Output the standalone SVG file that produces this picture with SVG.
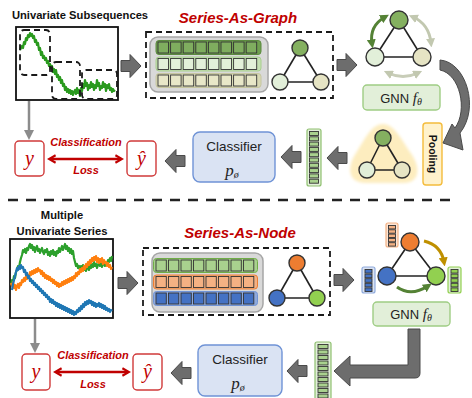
<svg xmlns="http://www.w3.org/2000/svg" width="472" height="398" viewBox="0 0 472 398">
<style>
  .title { font-family: "Liberation Sans", Arial, sans-serif; font-weight: bold; fill: #111; }
  .red-title { font-family: "Liberation Sans", Arial, sans-serif; font-weight: bold; font-style: italic; fill: #c00000; }
  .lbl { font-family: "Liberation Sans", Arial, sans-serif; fill: #222; }
  .math { font-family: "Liberation Serif", "Times New Roman", serif; font-style: italic; }
  .dash { fill: none; stroke: #1a1a1a; stroke-width: 1.8; stroke-dasharray: 6 4; }
  .blk { fill: #6d6d6d; stroke: #4a4a4a; stroke-width: 1; }
  .edge { stroke: #222; stroke-width: 1.6; }
  .node { stroke: #333; stroke-width: 1.4; }
  .holder { fill: #d9d9d9; stroke: #a6a6a6; stroke-width: 1.5; }
  .cell { stroke: #333; stroke-width: 0.9; }
  .ybox { fill: #fff; stroke: #d03a3a; stroke-width: 1.4; }
  .clf { fill: #dae3f3; stroke: #6f93d6; stroke-width: 1.4; }
  .gnn { fill: #e2efd9; stroke: #9fcd84; stroke-width: 1.4; }
  .series { fill: none; stroke-width: 2.2; stroke-linejoin: round; }
</style>
<defs>
  <path id="barrow" d="M0,-5.5 H9 V-11.5 L20,0 L9,11.5 V5.5 H0 Z"/>
  <marker id="gh" viewBox="0 0 10 10" refX="5" refY="5" markerWidth="4" markerHeight="4" orient="auto-start-reverse">
    <path d="M0,0 L10,5 L0,10 Z" fill="#8c8c8c"/>
  </marker>
  <marker id="rh" viewBox="0 0 10 10" refX="7" refY="5" markerWidth="3.6" markerHeight="3.6" orient="auto-start-reverse">
    <path d="M1,1 L8,5 L1,9" fill="none" stroke="#c00000" stroke-width="2.2"/>
  </marker>
  <marker id="dg" viewBox="0 0 10 10" refX="5" refY="5" markerWidth="3" markerHeight="3" orient="auto-start-reverse">
    <path d="M0,0 L10,5 L0,10 Z" fill="#548235"/>
  </marker>
  <marker id="lg" viewBox="0 0 10 10" refX="5" refY="5" markerWidth="3" markerHeight="3" orient="auto-start-reverse">
    <path d="M0,0 L10,5 L0,10 Z" fill="#c2c8b0"/>
  </marker>
  <marker id="gold" viewBox="0 0 10 10" refX="5" refY="5" markerWidth="3" markerHeight="3" orient="auto-start-reverse">
    <path d="M0,0 L10,5 L0,10 Z" fill="#bf9000"/>
  </marker>
  <clipPath id="clipTop"><rect x="16" y="27" width="102" height="73"/></clipPath>
  <clipPath id="clipBot"><rect x="10" y="239" width="103" height="79"/></clipPath>
  <filter id="soft" x="-20%" y="-20%" width="140%" height="140%"><feGaussianBlur stdDeviation="1.8"/></filter>
</defs>

<!-- ===== Series-As-Graph pipeline ===== -->
<text class="title" x="80" y="19" font-size="11.2" text-anchor="middle">Univariate Subsequences</text>

<g id="subsequences">
  <rect x="16" y="27" width="102" height="73" fill="#fff" stroke="#111" stroke-width="1.8"/>
  <polyline class="series" stroke="#2a9a1e" clip-path="url(#clipTop)" points="20,50 22,46 23,48 24,42 25,44 26,38 27,40 28,35 29,37 30,33 31,36 32,34 33,38 34,36 35,42 36,40 37,45 38,43 39,50 40,48 41,55 42,52 43,58 44,56 45,60 46,58 47,63 48,61 49,66 50,64 51,68 52,66 53,72 54,69 55,74 56,70 57,77 58,75 59,80 60,77 61,83 62,80 63,86 64,84 65,90 66,87 67,92 68,89 69,93 70,90 71,94 72,91 73,95 74,92 75,90 76,94 77,88 78,93 79,90 80,96 81,88 82,91 83,84 84,88 85,80 86,86 87,83 88,90 89,85 90,88 91,82 92,87 93,84 94,90 95,85 96,88 97,80 98,86 99,83 100,90 101,86 102,88 103,82 104,87 105,84 106,91 107,85 108,88 109,84 110,90 111,88 112,92 113,89 114,91 115,90"/>
  <rect class="dash" x="20" y="30" width="30" height="45" rx="4" stroke-width="1.2" stroke="#555"/>
  <rect class="dash" x="52" y="62" width="28" height="37" rx="4" stroke-width="1.2" stroke="#555"/>
  <rect class="dash" x="82" y="70" width="35" height="29" rx="4" stroke-width="1.2" stroke="#555"/>
</g>

<text class="red-title" x="238" y="23" font-size="15" text-anchor="middle">Series-As-Graph</text>

<g id="graph-construction">
  <rect class="dash" x="146" y="32" width="187" height="66"/>
  <rect class="holder" x="150" y="37" width="118" height="55" rx="8"/>
  <!-- three embedded subsequences -->
  <rect x="156" y="40.5" width="105" height="14" rx="3" fill="#70a050" stroke="#5b8a3f"/>
  <rect x="156" y="57" width="105" height="14" rx="3" fill="#c5e0b4" stroke="#a9cf8f"/>
  <rect x="156" y="73.5" width="105" height="14" rx="3" fill="#d8d8b4" stroke="#c6c6a0"/>
  <g fill="#7fad5f" class="cell">
    <rect x="158" y="42" width="10.5" height="11"/><rect x="170.6" y="42" width="10.5" height="11"/><rect x="183.2" y="42" width="10.5" height="11"/><rect x="195.8" y="42" width="10.5" height="11"/><rect x="208.4" y="42" width="10.5" height="11"/><rect x="221" y="42" width="10.5" height="11"/><rect x="233.6" y="42" width="10.5" height="11"/><rect x="246.2" y="42" width="10.5" height="11"/>
  </g>
  <g fill="#e2f0d9" class="cell">
    <rect x="158" y="58.5" width="10.5" height="11"/><rect x="170.6" y="58.5" width="10.5" height="11"/><rect x="183.2" y="58.5" width="10.5" height="11"/><rect x="195.8" y="58.5" width="10.5" height="11"/><rect x="208.4" y="58.5" width="10.5" height="11"/><rect x="221" y="58.5" width="10.5" height="11"/><rect x="233.6" y="58.5" width="10.5" height="11"/><rect x="246.2" y="58.5" width="10.5" height="11"/>
  </g>
  <g fill="#e8e7c8" class="cell">
    <rect x="158" y="75" width="10.5" height="11"/><rect x="170.6" y="75" width="10.5" height="11"/><rect x="183.2" y="75" width="10.5" height="11"/><rect x="195.8" y="75" width="10.5" height="11"/><rect x="208.4" y="75" width="10.5" height="11"/><rect x="221" y="75" width="10.5" height="11"/><rect x="233.6" y="75" width="10.5" height="11"/><rect x="246.2" y="75" width="10.5" height="11"/>
  </g>
  <line class="edge" x1="300" y1="48" x2="280" y2="82"/>
  <line class="edge" x1="300" y1="48" x2="321" y2="82"/>
  <line class="edge" x1="280" y1="82" x2="321" y2="82"/>
  <circle class="node" cx="300" cy="48" r="8" fill="#84b060"/>
  <circle class="node" cx="280" cy="82" r="8" fill="#e2efd9"/>
  <circle class="node" cx="321" cy="82" r="8" fill="#e6e4c4"/>
</g>

<g id="gnn-graph">
  <line class="edge" x1="399" y1="20" x2="375" y2="57"/>
  <line class="edge" x1="399" y1="20" x2="422" y2="57"/>
  <line class="edge" x1="375" y1="57" x2="422" y2="57"/>
  <circle class="node" cx="399" cy="20" r="9" fill="#84b060"/>
  <circle class="node" cx="375" cy="57" r="9" fill="#e2efd9"/>
  <circle class="node" cx="422" cy="57" r="9" fill="#e6e4c4"/>
  <path d="M372,44 Q369,26 385,17" fill="none" stroke="#548235" stroke-width="3" marker-start="url(#dg)" marker-end="url(#dg)"/>
  <path d="M413,17 Q429,24 431,43" fill="none" stroke="#c2c8b0" stroke-width="3" marker-start="url(#lg)" marker-end="url(#lg)"/>
  <path d="M388,73 Q403,80 418,73" fill="none" stroke="#c8cdb8" stroke-width="3" marker-start="url(#lg)" marker-end="url(#lg)"/>
</g>

<g id="gnn-top">
  <rect class="gnn" x="363" y="85" width="77" height="25" rx="4"/>
  <text class="lbl" x="401" y="102.5" font-size="13" text-anchor="middle">GNN <tspan class="math" font-size="15">f</tspan><tspan class="math" font-size="10" dy="2">θ</tspan></text>
</g>

<g id="pooling">
  <rect x="423" y="123" width="19" height="62" rx="3" fill="#fff2cc" stroke="#f4bc3c" stroke-width="1.4"/>
  <text class="title" font-size="10.5" text-anchor="middle" transform="translate(429,154) rotate(90)">Pooling</text>
</g>

<g id="pooled-graph">
  <path d="M383,124 C394,124 402,140 410,152 C420,165 422,183 403,183 L366,183 C347,183 347,166 356,153 C364,141 371,124 383,124 Z" fill="#fdedbf" filter="url(#soft)"/>
  <line class="edge" x1="383" y1="138" x2="367" y2="170"/>
  <line class="edge" x1="383" y1="138" x2="402" y2="170"/>
  <line class="edge" x1="367" y1="170" x2="402" y2="170"/>
  <circle class="node" cx="383" cy="138" r="8" fill="#84b060"/>
  <circle class="node" cx="367" cy="170" r="8" fill="#e2efd9"/>
  <circle class="node" cx="402" cy="170" r="8" fill="#e6e4c4"/>
</g>

<g id="graph-vector">
  <rect x="307" y="129" width="14" height="57" rx="2" fill="#e2efd9" stroke="#8fc070" stroke-width="1.2"/>
  <g fill="#a9d18e" class="cell">
    <rect x="309.5" y="131.5" width="9" height="4"/><rect x="309.5" y="136.8" width="9" height="4"/><rect x="309.5" y="142.1" width="9" height="4"/><rect x="309.5" y="147.4" width="9" height="4"/><rect x="309.5" y="152.7" width="9" height="4"/><rect x="309.5" y="158" width="9" height="4"/><rect x="309.5" y="163.3" width="9" height="4"/><rect x="309.5" y="168.6" width="9" height="4"/><rect x="309.5" y="173.9" width="9" height="4"/><rect x="309.5" y="179.2" width="9" height="4"/>
  </g>
</g>

<g id="classifier-top">
  <rect class="clf" x="193" y="132" width="82" height="50" rx="7"/>
  <text class="lbl" x="234" y="151" font-size="13.5" text-anchor="middle">Classifier</text>
  <text class="math" x="232" y="176" font-size="17" fill="#222" text-anchor="middle">p<tspan font-size="10" dy="2">ø</tspan></text>
</g>

<g id="y-top">
  <rect class="ybox" x="15" y="141" width="29" height="35" rx="4"/>
  <text class="math" x="29.5" y="165" font-size="20" fill="#c00000" text-anchor="middle">y</text>
</g>
<g id="yhat-top">
  <rect class="ybox" x="127" y="141" width="29" height="35" rx="4"/>
  <text class="math" x="141.5" y="165" font-size="20" fill="#c00000" text-anchor="middle">ŷ</text>
</g>
<text class="red-title" x="86" y="146" font-size="11" text-anchor="middle">Classification</text>
<text class="red-title" x="86" y="174" font-size="11" text-anchor="middle">Loss</text>

<!-- ===== divider ===== -->
<line x1="8" y1="200" x2="458" y2="200" stroke="#222" stroke-width="2.5" stroke-dasharray="10 8"/>

<!-- ===== Series-As-Node pipeline ===== -->
<text class="title" x="62" y="219" font-size="11.2" text-anchor="middle">Multiple</text>
<text class="title" x="62" y="235" font-size="11.2" text-anchor="middle">Univariate Series</text>

<g id="multi-series">
  <rect x="10" y="239" width="103" height="79" fill="#fff" stroke="#111" stroke-width="1.8"/>
  <g clip-path="url(#clipBot)">
    <polyline class="series" stroke="#2ca02c" points="11,285 12,280 13,282 14,276 15,278 16,272 17,270 18,266 19,268 20,262 21,258 22,255 23,250 24,252 25,249 26,253 27,248 28,250 29,246 30,244 31,248 32,245 33,250 34,247 35,252 36,248 37,246 38,251 39,249 40,253 41,250 42,248 43,252 44,254 45,250 46,252 47,249 48,255 49,252 50,256 51,251 52,254 53,250 54,255 55,252 56,256 57,251 58,253 59,248 60,252 61,249 62,246 63,250 64,247 65,244 66,249 67,246 68,251 69,248 70,253 71,249 72,254 73,251 74,258 75,262 76,266 77,264 78,268 79,266 80,270 81,266 82,269 83,265 84,270 85,267 86,271 87,268 88,266 89,270 90,265 91,268 92,264 93,267 94,262 95,266 96,264 97,268 98,265 99,262 100,266 101,263 102,267 103,264 104,262 105,266 106,263 107,265 108,260 109,262 110,258 111,261 112,256"/>
    <polyline class="series" stroke="#ff7f0e" points="11,283 12,286 13,282 14,288 15,285 16,290 17,286 18,284 19,288 20,283 21,285 22,280 23,282 24,278 25,281 26,276 27,279 28,275 29,278 30,272 31,275 32,271 33,274 34,270 35,273 36,269 37,272 38,268 39,271 40,270 41,274 42,271 43,276 44,273 45,278 46,275 47,279 48,276 49,280 50,277 51,281 52,279 53,283 54,280 55,284 56,282 57,286 58,283 59,287 60,284 61,286 62,282 63,285 64,281 65,284 66,280 67,283 68,279 69,282 70,278 71,281 72,277 73,280 74,276 75,278 76,273 77,276 78,272 79,274 80,269 81,272 82,268 83,271 84,266 85,269 86,264 87,267 88,262 89,265 90,260 91,263 92,258 93,261 94,257 95,260 96,256 97,262 98,258 99,263 100,259 101,262 102,258 103,264 104,260 105,263 106,262 107,266 108,263 109,267 110,265 111,269 112,267"/>
    <polyline class="series" stroke="#1f77b4" points="12,290 13,284 14,280 15,276 16,272 17,268 18,270 19,266 20,269 21,265 22,268 23,267 24,272 25,270 26,275 27,273 28,278 29,276 30,281 31,279 32,283 33,281 34,285 35,283 36,287 37,285 38,289 39,287 40,291 41,289 42,293 43,291 44,295 45,293 46,297 47,295 48,299 49,297 50,302 51,299 52,303 53,300 54,304 55,302 56,306 57,303 58,307 59,304 60,308 61,305 62,309 63,306 64,310 65,307 66,311 67,308 68,312 69,309 70,313 71,310 72,314 73,311 74,315 75,312 76,314 77,310 78,312 79,308 80,311 81,306 82,309 83,304 84,307 85,302 86,305 87,301 88,304 89,300 90,303 91,301 92,305 93,302 94,306 95,303 96,307 97,304 98,306 99,303 100,307 101,304 102,308 103,305 104,309 105,306 106,310 107,308 108,311 109,309 110,312 111,310 112,311"/>
  </g>
</g>

<text class="red-title" x="240" y="238" font-size="15" text-anchor="middle">Series-As-Node</text>

<g id="node-construction">
  <rect class="dash" x="143" y="248" width="187" height="67"/>
  <rect class="holder" x="152" y="253" width="111" height="59" rx="8"/>
  <rect x="153.5" y="258.5" width="104" height="14" rx="3" fill="#a9d18e" stroke="#70ad47"/>
  <rect x="153.5" y="275" width="104" height="14" rx="3" fill="#f4b183" stroke="#ed7d31"/>
  <rect x="153.5" y="291.5" width="104" height="14" rx="3" fill="#8faadc" stroke="#6f93d6"/>
  <g fill="#a9d18e" class="cell">
    <rect x="156" y="260" width="10.3" height="11"/><rect x="168.5" y="260" width="10.3" height="11"/><rect x="181" y="260" width="10.3" height="11"/><rect x="193.5" y="260" width="10.3" height="11"/><rect x="206" y="260" width="10.3" height="11"/><rect x="218.5" y="260" width="10.3" height="11"/><rect x="231" y="260" width="10.3" height="11"/><rect x="243.5" y="260" width="10.3" height="11"/>
  </g>
  <g fill="#f4b183" class="cell">
    <rect x="156" y="276.5" width="10.3" height="11"/><rect x="168.5" y="276.5" width="10.3" height="11"/><rect x="181" y="276.5" width="10.3" height="11"/><rect x="193.5" y="276.5" width="10.3" height="11"/><rect x="206" y="276.5" width="10.3" height="11"/><rect x="218.5" y="276.5" width="10.3" height="11"/><rect x="231" y="276.5" width="10.3" height="11"/><rect x="243.5" y="276.5" width="10.3" height="11"/>
  </g>
  <g fill="#4472c4" class="cell">
    <rect x="156" y="293" width="10.3" height="11"/><rect x="168.5" y="293" width="10.3" height="11"/><rect x="181" y="293" width="10.3" height="11"/><rect x="193.5" y="293" width="10.3" height="11"/><rect x="206" y="293" width="10.3" height="11"/><rect x="218.5" y="293" width="10.3" height="11"/><rect x="231" y="293" width="10.3" height="11"/><rect x="243.5" y="293" width="10.3" height="11"/>
  </g>
  <line class="edge" x1="297" y1="263" x2="277" y2="298"/>
  <line class="edge" x1="297" y1="263" x2="317" y2="298"/>
  <line class="edge" x1="277" y1="298" x2="317" y2="298"/>
  <circle class="node" cx="297" cy="263" r="8" fill="#ed7d31"/>
  <circle class="node" cx="277" cy="298" r="8" fill="#4472c4"/>
  <circle class="node" cx="317" cy="298" r="8" fill="#92d050"/>
</g>

<g id="gnn-node-graph">
  <line class="edge" x1="410" y1="242" x2="387" y2="276"/>
  <line class="edge" x1="410" y1="242" x2="436" y2="276"/>
  <line class="edge" x1="387" y1="276" x2="436" y2="276"/>
  <circle class="node" cx="410" cy="242" r="9" fill="#ed7d31"/>
  <circle class="node" cx="387" cy="276" r="9" fill="#4472c4"/>
  <circle class="node" cx="436" cy="276" r="9" fill="#92d050"/>
  <!-- node feature vectors -->
  <rect x="386" y="223" width="12" height="24" rx="2" fill="#fbe5d6" stroke="#f4b183" stroke-width="1.2"/>
  <g fill="#f4b183" class="cell">
    <rect x="388.5" y="225.5" width="7" height="3.4"/><rect x="388.5" y="229.8" width="7" height="3.4"/><rect x="388.5" y="234.1" width="7" height="3.4"/><rect x="388.5" y="238.4" width="7" height="3.4"/><rect x="388.5" y="242.7" width="7" height="3.4"/>
  </g>
  <rect x="362" y="267" width="13" height="26" rx="2" fill="#dae3f3" stroke="#8faadc" stroke-width="1.2"/>
  <g fill="#4472c4" class="cell">
    <rect x="365" y="269.5" width="7" height="3.6"/><rect x="365" y="274.1" width="7" height="3.6"/><rect x="365" y="278.7" width="7" height="3.6"/><rect x="365" y="283.3" width="7" height="3.6"/><rect x="365" y="287.9" width="7" height="3.6"/>
  </g>
  <rect x="448" y="267" width="13" height="26" rx="2" fill="#e2efd9" stroke="#92d050" stroke-width="1.2"/>
  <g fill="#92d050" class="cell">
    <rect x="451" y="269.5" width="7" height="3.6"/><rect x="451" y="274.1" width="7" height="3.6"/><rect x="451" y="278.7" width="7" height="3.6"/><rect x="451" y="283.3" width="7" height="3.6"/><rect x="451" y="287.9" width="7" height="3.6"/>
  </g>
  <path d="M424,241 Q441,245 444,262" fill="none" stroke="#bf9000" stroke-width="3" marker-end="url(#gold)"/>
  <path d="M397,287 Q411,297 428,286" fill="none" stroke="#548235" stroke-width="3" marker-end="url(#dg)"/>
</g>

<g id="gnn-bottom">
  <rect class="gnn" x="373" y="302" width="77" height="24" rx="4"/>
  <text class="lbl" x="411" y="319" font-size="13" text-anchor="middle">GNN <tspan class="math" font-size="15">f</tspan><tspan class="math" font-size="10" dy="2">θ</tspan></text>
</g>

<g id="node-vector">
  <rect x="315" y="342" width="16" height="60" rx="2" fill="#e2efd9" stroke="#8fc070" stroke-width="1.2"/>
  <g fill="#a9d18e" class="cell">
    <rect x="318" y="344.5" width="10" height="4"/><rect x="318" y="350" width="10" height="4"/><rect x="318" y="355.5" width="10" height="4"/><rect x="318" y="361" width="10" height="4"/><rect x="318" y="366.5" width="10" height="4"/><rect x="318" y="372" width="10" height="4"/><rect x="318" y="377.5" width="10" height="4"/><rect x="318" y="383" width="10" height="4"/><rect x="318" y="388.5" width="10" height="4"/><rect x="318" y="394" width="10" height="4"/>
  </g>
</g>

<g id="classifier-bottom">
  <rect class="clf" x="198" y="345" width="84" height="51" rx="7"/>
  <text class="lbl" x="240" y="364" font-size="13.5" text-anchor="middle">Classifier</text>
  <text class="math" x="238" y="389" font-size="17" fill="#222" text-anchor="middle">p<tspan font-size="10" dy="2">ø</tspan></text>
</g>

<g id="y-bottom">
  <rect class="ybox" x="22" y="354" width="28" height="36" rx="4"/>
  <text class="math" x="36" y="378" font-size="20" fill="#c00000" text-anchor="middle">y</text>
</g>
<g id="yhat-bottom">
  <rect class="ybox" x="133" y="354" width="29" height="36" rx="4"/>
  <text class="math" x="147.5" y="378" font-size="20" fill="#c00000" text-anchor="middle">ŷ</text>
</g>
<text class="red-title" x="93" y="359" font-size="11" text-anchor="middle">Classification</text>
<text class="red-title" x="93" y="388" font-size="11" text-anchor="middle">Loss</text>

<!-- ===== connectors ===== -->
<g id="connectors">
  <!-- block arrows, top row -->
  <use href="#barrow" class="blk" transform="translate(121,66)"/>
  <use href="#barrow" class="blk" transform="translate(337,65)"/>
  <path class="blk" d="M440,60 C466,62 480,108 460,133 L463,150 L443,143 L452,124 L455,128 C468,110 460,74 440,70 Z"/>
  <use href="#barrow" class="blk" transform="translate(347,158) scale(-1,1)"/>
  <use href="#barrow" class="blk" transform="translate(301,157) scale(-1,1)"/>
  <use href="#barrow" class="blk" transform="translate(185,161) scale(-1,1)"/>
  <line x1="29" y1="101" x2="29" y2="135" stroke="#8c8c8c" stroke-width="2.5" marker-end="url(#gh)"/>
  <line x1="50" y1="159" x2="121" y2="159" stroke="#c00000" stroke-width="2.6" marker-start="url(#rh)" marker-end="url(#rh)"/>

  <!-- block arrows, bottom row -->
  <use href="#barrow" class="blk" transform="translate(118,283)"/>
  <use href="#barrow" class="blk" transform="translate(334,280)"/>
  <path class="blk" d="M408,329 H420 V373 Q420,378 415,378 H350 V386 L334,371 L350,356 V365 H408 Z"/>
  <use href="#barrow" class="blk" transform="translate(307,371) scale(-1,1)"/>
  <use href="#barrow" class="blk" transform="translate(191,373) scale(-1,1)"/>
  <line x1="35" y1="319" x2="35" y2="348" stroke="#8c8c8c" stroke-width="2.5" marker-end="url(#gh)"/>
  <line x1="56" y1="372" x2="128" y2="372" stroke="#c00000" stroke-width="2.6" marker-start="url(#rh)" marker-end="url(#rh)"/>
</g>
</svg>
